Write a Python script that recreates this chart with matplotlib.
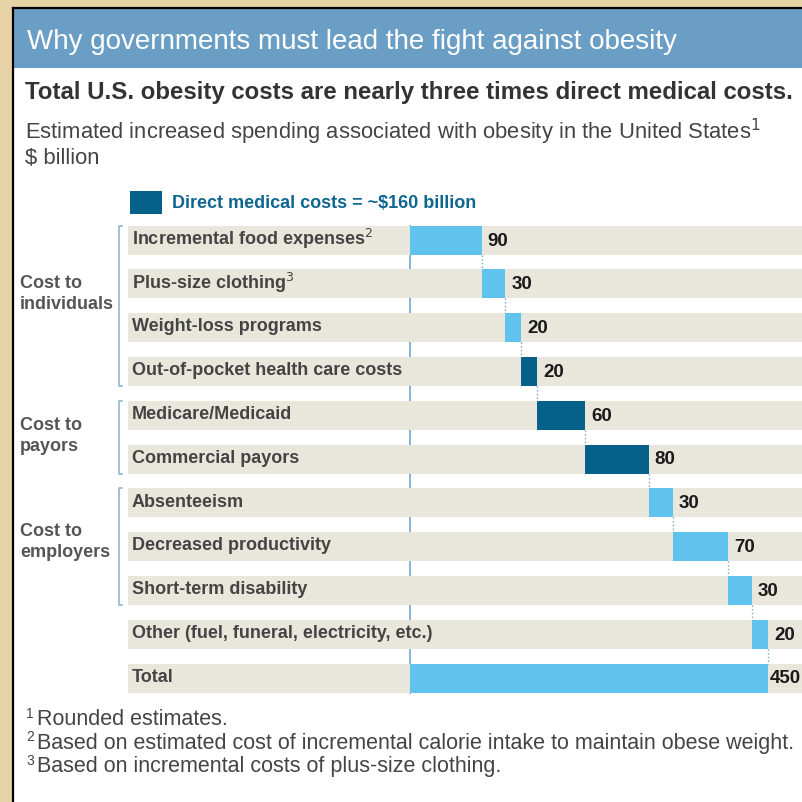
import numpy as np
import matplotlib
matplotlib.use("Agg")
import matplotlib.pyplot as plt
from matplotlib.patches import Rectangle

plt.rcParams['font.family'] = ['Liberation Sans Narrow', 'Liberation Sans', 'DejaVu Sans']

# data ($ billion)
categories = ["Incremental food expenses$^{2}$", "Plus-size clothing$^{3}$", "Weight-loss programs",
              "Out-of-pocket health care costs", "Medicare/Medicaid", "Commercial payors",
              "Absenteeism", "Decreased productivity", "Short-term disability",
              "Other (fuel, funeral, electricity, etc.)"]
values = [90, 30, 20, 20, 60, 80, 30, 70, 30, 20]
is_direct = [False, False, False, True, True, True, False, False, False, False]
total_label = "Total"
groups = ["Cost to\nindividuals", "Cost to\npayors", "Cost to\nemployers"]
group_rows = [(0, 3), (4, 5), (6, 8)]
group_label_y = [294, 436, 542]  # pixel positions of the group captions

LIGHT = "#60c3ee"
DARK = "#05618a"
BAND = "#e9e7dc"
HEADER = "#6b9ec5"
BEIGE = "#e8d3a6"
LINE = "#74a7c9"

W = H = 803
fig = plt.figure(figsize=(8.03, 8.03), dpi=100)
fig.patch.set_facecolor("white")

# decoration layer in pixel coords
deco = fig.add_axes([0, 0, 1, 1])
deco.set_xlim(0, W)
deco.set_ylim(H, 0)
deco.axis("off")
deco.add_patch(Rectangle((0, 0), 13, H, color=BEIGE, lw=0))
deco.add_patch(Rectangle((0, 0), W, 9, color=BEIGE, lw=0))
deco.plot([13.5, 13.5], [8.5, H], color="black", lw=1.6)
deco.plot([13, W], [8.5, 8.5], color="black", lw=1.6)
deco.add_patch(Rectangle((14, 9.5), W - 14, 59, color=HEADER, lw=0))

deco.text(27, 42, "Why governments must lead the fight against obesity", color="white",
          fontsize=20, va="center", ha="left")
deco.text(25, 93, "Total U.S. obesity costs are nearly three times direct medical costs.",
          color="#333333", fontsize=17.3, fontweight="bold", va="center")
deco.text(25, 132, "Estimated increased spending associated with obesity in the United States$^{1}$",
          color="#444444", fontsize=15.8, va="center")
deco.text(25, 158, "$ billion", color="#444444", fontsize=15.8, va="center")

# legend
deco.add_patch(Rectangle((130, 192), 32, 23, color=DARK, lw=0))
deco.text(172, 204, "Direct medical costs = ~$160 billion", color="#0f6690",
          fontsize=13, fontweight="bold", va="center")

# footnotes
notes = ["Rounded estimates.",
         "Based on estimated cost of incremental calorie intake to maintain obese weight.",
         "Based on incremental costs of plus-size clothing."]
for k, note in enumerate(notes):
    y = 720 + 23.5 * k
    deco.text(26, y - 6, str(k + 1), color="#444444", fontsize=10, va="center")
    deco.text(37, y, note, color="#444444", fontsize=15.5, va="center")

# chart layer: data x in $ billion, y in rows
X0, PX_PER = 410, 358 / 450
Y0, ROW = 241, 43.8
dx = lambda p: (p - X0) / PX_PER
dy = lambda p: (p - Y0) / ROW

ax = fig.add_axes([0, 0, 1, 1])
ax.patch.set_alpha(0)
ax.set_xlim(dx(0), dx(W))
ax.set_ylim(dy(H), dy(0))
ax.axis("off")

n = len(values)
rows = np.arange(n + 1)
bh = 29 / ROW
band_left, band_right = dx(128), dx(W + 5)
ax.barh(rows, band_right - band_left, left=band_left, height=bh, color=BAND, zorder=1)

# zero line between bands
ax.plot([0, 0], [-bh / 2, n + bh / 2], color=LINE, lw=1.2, zorder=0.5)

starts = np.concatenate([[0], np.cumsum(values)[:-1]])
ends = starts + np.array(values)
total = sum(values)
colors = [DARK if d else LIGHT for d in is_direct]
ax.barh(rows[:n], values, left=starts, height=bh, color=colors, zorder=2)
ax.barh(n, total, left=0, height=bh, color=LIGHT, zorder=2)

# connectors
for i in range(n):
    ax.plot([ends[i], ends[i]], [i + bh / 2, i + 1 - bh / 2], color=LINE, lw=1, ls=":", zorder=2)

# value labels
for i in range(n):
    ax.text(ends[i] + 6 / PX_PER, i, str(values[i]), fontsize=13.5, fontweight="bold",
            color="#1a1a1a", va="center", ha="left", zorder=3)
ax.text(total + 2 / PX_PER, n, str(total), fontsize=13.5, fontweight="bold",
        color="#1a1a1a", va="center", ha="left", zorder=3)

# row labels
for i, lab in enumerate(categories + [total_label]):
    ax.text(dx(132), i - 0.04, lab, fontsize=13, fontweight="bold", color="#444444",
            va="center", ha="left", zorder=3)

# group labels and brackets
for g, (a, b), gy in zip(groups, group_rows, group_label_y):
    top, bot = a - bh / 2, b + bh / 2
    xb = dx(119)
    ax.plot([dx(122), xb, xb, dx(122)], [top, top, bot, bot], color="#8fb8d0", lw=1.2, zorder=3)
    ax.text(dx(20), dy(gy), g, fontsize=13, fontweight="bold", color="#555555",
            va="center", ha="left", linespacing=1.3, zorder=3)

fig.savefig("out.png", dpi=100, facecolor=fig.get_facecolor())
